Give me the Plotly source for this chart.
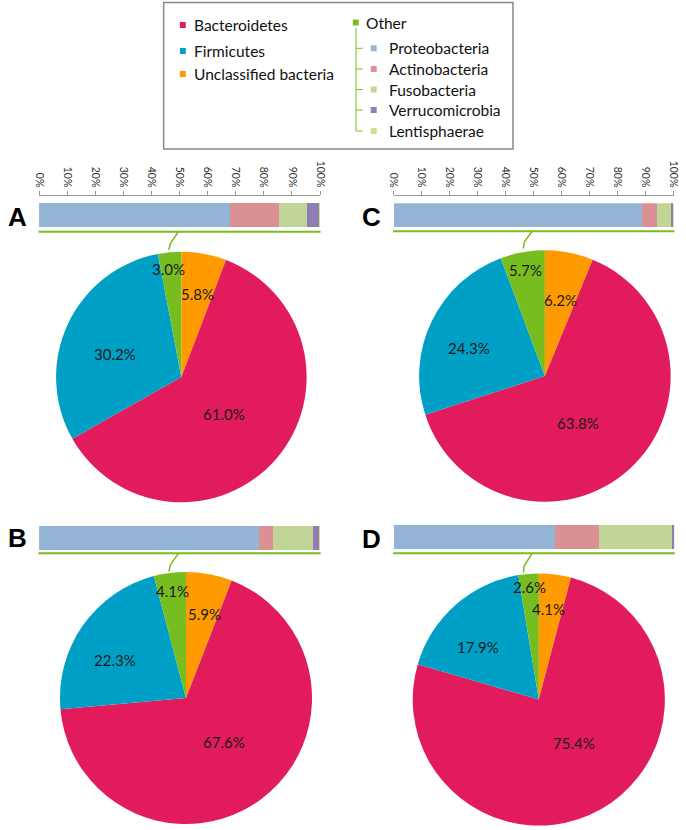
import plotly.graph_objects as go

W, H = 686, 830

# ---------------- data ----------------
PANELS = ["A", "B", "C", "D"]
PIE_LABELS = ["Unclassified bacteria", "Bacteroidetes", "Firmicutes", "Other"]
PIE_A = [5.8, 61.0, 30.2, 3.0]
PIE_B = [5.9, 67.6, 22.3, 4.1]
PIE_C = [6.2, 63.8, 24.3, 5.7]
PIE_D = [4.1, 75.4, 17.9, 2.6]

OTHER_LABELS = ["Proteobacteria", "Actinobacteria", "Fusobacteria", "Verrucomicrobia", "Lentisphaerae"]
OTHER_A = [67.9, 17.5, 9.8, 4.6, 0.2]
OTHER_B = [78.2, 4.9, 14.3, 2.5, 0.1]
OTHER_C = [88.5, 5.6, 5.1, 0.6, 0.2]
OTHER_D = [57.2, 15.7, 26.3, 0.7, 0.1]

TICK_VALUES = [0, 10, 20, 30, 40, 50, 60, 70, 80, 90, 100]
TICK_LABELS = ["0%", "10%", "20%", "30%", "40%", "50%", "60%", "70%", "80%", "90%", "100%"]

# ---------------- style ----------------
PIE_COLORS = {"Unclassified bacteria": "#FF9A00", "Bacteroidetes": "#E21C5C",
              "Firmicutes": "#00A0C6", "Other": "#77BD1F"}
OTHER_COLORS = {"Proteobacteria": "#93B4D5", "Actinobacteria": "#DB9193",
                "Fusobacteria": "#C1D597", "Verrucomicrobia": "#8F7DB4",
                "Lentisphaerae": "#D9DC8A"}
GREEN = "#77BD1F"
FONT = "Lato"

pie_data = {"A": PIE_A, "B": PIE_B, "C": PIE_C, "D": PIE_D}
other_data = {"A": OTHER_A, "B": OTHER_B, "C": OTHER_C, "D": OTHER_D}

# layout positions in pixels
LAYOUT = {
    "A": dict(cx=179.5, cy=377, r=127.5, bx0=34.7, bx1=320.7, by0=203, by1=227.3,
              line_y=231.7, axis_y=195, ticks=True,
              conn=[(176.5, 231.7), (168.3, 243.5), (166.7, 250)],
              letter=(13, 216.5),
              lab=[(195.7, 294.3), (222.7, 414), (111.7, 354), (166.7, 269.3)]),
    "B": dict(cx=184.2, cy=698, r=128.3, bx0=34.7, bx1=320.7, by0=525.7, by1=550,
              line_y=553.3, axis_y=None, ticks=False,
              conn=[(176.5, 553.3), (168.3, 565), (166.7, 571.5)],
              letter=(12.5, 538),
              lab=[(202.7, 614), (222.7, 742.3), (111.7, 660), (170.7, 590.7)]),
    "C": dict(cx=549.5, cy=376, r=128, bx0=395.7, bx1=680.7, by0=203.3, by1=227.7,
              line_y=231.3, axis_y=195, ticks=True,
              conn=[(536.5, 231.3), (528.7, 241.7), (527.5, 248.5)],
              letter=(373, 216.5),
              lab=[(565, 300), (583.3, 423.3), (472.7, 348.3), (530, 270)]),
    "D": dict(cx=543.3, cy=699.5, r=128.3, bx0=395.7, bx1=681.3, by0=525, by1=549.3,
              line_y=553.3, axis_y=None, ticks=False,
              conn=[(536.5, 553.3), (528.3, 566), (527.7, 572.5)],
              letter=(373.5, 539),
              lab=[(552.7, 609.3), (579.3, 742.7), (481.7, 646.7), (534, 586.7)]),
}


def px(x):
    return x / W


def py(y):
    return 1 - y / H


fig = go.Figure()
shapes = []
annotations = []
layout_axes = {}

for i, p in enumerate(PANELS, start=1):
    L = LAYOUT[p]
    # --- pie ---
    fig.add_trace(go.Pie(
        labels=PIE_LABELS, values=pie_data[p], sort=False, direction="clockwise",
        rotation=0, textinfo="none", showlegend=False,
        marker=dict(colors=[PIE_COLORS[k] for k in PIE_LABELS], line=dict(width=0)),
        domain=dict(x=[px(L["cx"] - L["r"]), px(L["cx"] + L["r"])],
                    y=[py(L["cy"] + L["r"]), py(L["cy"] - L["r"])]),
    ))
    # --- stacked bar of 'Other' ---
    xa = "x" if i == 1 else f"x{i}"
    ya = "y" if i == 1 else f"y{i}"
    for lab, v in zip(OTHER_LABELS, other_data[p]):
        fig.add_trace(go.Bar(
            x=[v], y=[0], orientation="h", width=1, xaxis=xa, yaxis=ya,
            marker=dict(color=OTHER_COLORS[lab], line=dict(width=0)),
            showlegend=False, name=lab,
        ))
    xkey = "xaxis" if i == 1 else f"xaxis{i}"
    ykey = "yaxis" if i == 1 else f"yaxis{i}"
    xdef = dict(domain=[px(L["bx0"]), px(L["bx1"])], range=[0, 100], showgrid=False,
                zeroline=False, fixedrange=True)
    if L["ticks"]:
        xdef.update(side="top", anchor="free", position=py(L["axis_y"]),
                    showline=True, linecolor="#999999", linewidth=1,
                    ticks="outside", ticklen=4, tickcolor="#999999",
                    tickvals=TICK_VALUES, ticktext=TICK_LABELS, tickangle=90,
                    tickfont=dict(family=FONT, size=10.5, color="#333333"))
    else:
        xdef.update(visible=False, anchor=ya)
    layout_axes[xkey] = xdef
    layout_axes[ykey] = dict(domain=[py(L["by1"]), py(L["by0"])], range=[-0.5, 0.5],
                             visible=False, anchor=xa, fixedrange=True)
    # green underline
    shapes.append(dict(type="line", xref="paper", yref="paper",
                       x0=px(L["bx0"] - 0.7), x1=px(L["bx1"] + 0.5),
                       y0=py(L["line_y"]), y1=py(L["line_y"]),
                       line=dict(color=GREEN, width=2)))
    # connector
    path = "M " + " L ".join(f"{px(x):.5f},{py(y):.5f}" for x, y in L["conn"])
    shapes.append(dict(type="path", xref="paper", yref="paper", path=path,
                       line=dict(color=GREEN, width=1.5)))
    # panel letter
    annotations.append(dict(text=f"<b>{p}</b>", x=px(L["letter"][0]), y=py(L["letter"][1]),
                            xref="paper", yref="paper", showarrow=False,
                            xanchor="center", yanchor="middle",
                            font=dict(family="Liberation Sans, Arial", size=26, color="#000")))
    # pie percentage labels
    for (lx, ly), v in zip(L["lab"], pie_data[p]):
        annotations.append(dict(text=f"{v:.1f}%", x=px(lx), y=py(ly), xref="paper",
                                yref="paper", showarrow=False, xanchor="center",
                                yanchor="middle",
                                font=dict(family=FONT, size=15, color="#1a1a1a")))

# ---------------- custom legend ----------------
shapes.append(dict(type="rect", xref="paper", yref="paper", x0=px(161.5), x1=px(517),
                   y0=py(149), y1=py(2.5), line=dict(color="#8a8a8a", width=1.5)))
LEG_LEFT = [("Bacteroidetes", 25), ("Firmicutes", 51), ("Unclassified bacteria", 74)]
for name, yy in LEG_LEFT:
    shapes.append(dict(type="rect", xref="paper", yref="paper", x0=px(178), x1=px(184),
                       y0=py(yy + 3), y1=py(yy - 3), line=dict(width=0),
                       fillcolor=PIE_COLORS[name]))
    annotations.append(dict(text=name, x=px(190.5), y=py(yy), xref="paper", yref="paper",
                            showarrow=False, xanchor="left", yanchor="middle",
                            font=dict(family=FONT, size=15.5, color="#111")))
# Other header
shapes.append(dict(type="rect", xref="paper", yref="paper", x0=px(354), x1=px(360),
                   y0=py(25.5), y1=py(19.5), line=dict(width=0), fillcolor=PIE_COLORS["Other"]))
annotations.append(dict(text="Other", x=px(365.5), y=py(22.5), xref="paper", yref="paper",
                        showarrow=False, xanchor="left", yanchor="middle",
                        font=dict(family=FONT, size=15.5, color="#111")))
LEG_SUB_Y = [48.3, 69, 89.5, 110, 131]
shapes.append(dict(type="line", xref="paper", yref="paper", x0=px(357.3), x1=px(357.3),
                   y0=py(28), y1=py(LEG_SUB_Y[-1]), line=dict(color=GREEN, width=1)))
for name, yy in zip(OTHER_LABELS, LEG_SUB_Y):
    shapes.append(dict(type="line", xref="paper", yref="paper", x0=px(357.3), x1=px(364),
                       y0=py(yy), y1=py(yy), line=dict(color=GREEN, width=1)))
    shapes.append(dict(type="rect", xref="paper", yref="paper", x0=px(372.3), x1=px(378.3),
                       y0=py(yy + 3), y1=py(yy - 3), line=dict(width=0),
                       fillcolor=OTHER_COLORS[name]))
    annotations.append(dict(text=name, x=px(388.5), y=py(yy), xref="paper", yref="paper",
                            showarrow=False, xanchor="left", yanchor="middle",
                            font=dict(family=FONT, size=15.5, color="#111")))

fig.update_layout(
    width=W, height=H, margin=dict(l=0, r=0, t=0, b=0),
    paper_bgcolor="white", plot_bgcolor="rgba(0,0,0,0)",
    barmode="stack", bargap=0, showlegend=False,
    shapes=shapes, annotations=annotations, **layout_axes,
)

fig.write_html(
    "out.html",
    config={"displayModeBar": False},
    post_script="document.body.style.margin='0';document.body.style.overflow='hidden';",
)
